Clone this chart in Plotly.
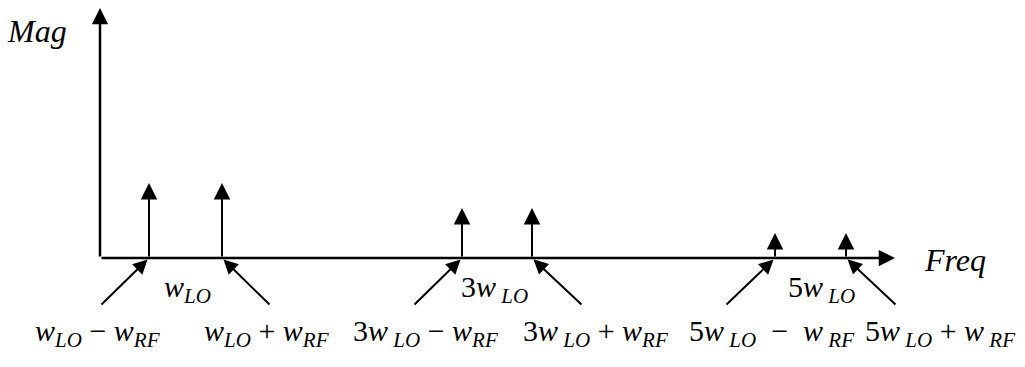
import plotly.graph_objects as go

# Mixer output spectrum: spur frequencies (schematic units) and relative magnitudes
freq = [4.9, 12.2, 36.2, 43.2, 67.5, 74.6]
mag = [3, 3, 2, 2, 1, 1]

# Labels for each spur (difference / sum products)
spur_labels = [
    "<i>w</i><sub><i>LO</i></sub> − <i>w</i><sub><i>RF</i></sub>",
    "<i>w</i><sub><i>LO</i></sub> + <i>w</i><sub><i>RF</i></sub>",
    "3<i>w</i><sub> <i>LO</i></sub> − <i>w</i><sub><i>RF</i></sub>",
    "3<i>w</i><sub> <i>LO</i></sub> + <i>w</i><sub><i>RF</i></sub>",
    "5<i>w</i><sub> <i>LO</i></sub>  −  <i>w</i><sub> <i>RF</i></sub>",
    "5<i>w</i><sub> <i>LO</i></sub> + <i>w</i><sub> <i>RF</i></sub>",
]
# Harmonic labels of the local oscillator
harmonic_labels = [
    "<i>w</i><sub><i>LO</i></sub>",
    "3<i>w</i><sub> <i>LO</i></sub>",
    "5<i>w</i><sub> <i>LO</i></sub>",
]

# Axis extents
freq_axis_end = 79.5
mag_axis_end = 10.0

# Label placement (data units)
spur_label_x = [-0.3, 16.6, 32.5, 49.5, 67.1, 84.0]
spur_label_y = -3.0
harmonic_label_x = [8.7, 39.4, 72.1]
harmonic_label_y = -1.25
pointer_dx = [49, -49, 49, -51, 50, -51]   # pointer tail offset in px (sign = side)
pointer_dy = 48

FONT = "Times New Roman, Liberation Serif, serif"
INK = "black"
TXT = dict(family=FONT, size=30, color=INK)
TITLE = dict(family=FONT, size=32, color=INK)

fig = go.Figure()
# invisible trace to establish the axes
fig.add_trace(go.Scatter(x=freq, y=[0] * len(freq), mode="markers",
                         marker=dict(size=1, color="rgba(0,0,0,0)"),
                         hoverinfo="skip", showlegend=False))

ann = []
# Frequency and magnitude axes with arrowheads
ann.append(dict(x=freq_axis_end, y=0, ax=0, ay=0, xref="x", yref="y",
                axref="x", ayref="y", text="", showarrow=True,
                arrowhead=2, arrowsize=1.3, arrowwidth=2.5, arrowcolor=INK))
ann.append(dict(x=0, y=mag_axis_end, ax=0, ay=0, xref="x", yref="y",
                axref="x", ayref="y", text="", showarrow=True,
                arrowhead=2, arrowsize=1.3, arrowwidth=2.5, arrowcolor=INK))

# Spectral lines
for f, m in zip(freq, mag):
    ann.append(dict(x=f, y=m, ax=f, ay=0, xref="x", yref="y",
                    axref="x", ayref="y", text="", showarrow=True,
                    arrowhead=2, arrowsize=1.65, arrowwidth=2, arrowcolor=INK))

# Pointers from labels to each spur
for f, dx in zip(freq, pointer_dx):
    ann.append(dict(x=f, y=0, ax=-dx, ay=pointer_dy, xref="x", yref="y",
                    text="", showarrow=True, standoff=2,
                    arrowhead=2, arrowsize=1.45, arrowwidth=2, arrowcolor=INK))

# Spur labels
for lx, t in zip(spur_label_x, spur_labels):
    ann.append(dict(x=lx, y=spur_label_y, xref="x", yref="y", text=t,
                    showarrow=False, xanchor="center", yanchor="middle",
                    font=TXT))

# Harmonic labels
for lx, t in zip(harmonic_label_x, harmonic_labels):
    ann.append(dict(x=lx, y=harmonic_label_y, xref="x", yref="y", text=t,
                    showarrow=False, xanchor="center", yanchor="middle",
                    font=TXT))

# Axis titles
ann.append(dict(x=-6.3, y=9.1, xref="x", yref="y", text="<i>Mag</i>",
                showarrow=False, xanchor="center", yanchor="middle", font=TITLE))
ann.append(dict(x=85.5, y=-0.08, xref="x", yref="y", text="<i>Freq</i>",
                showarrow=False, xanchor="center", yanchor="middle", font=TITLE))

fig.update_layout(
    width=1025, height=367,
    margin=dict(l=0, r=0, t=0, b=0),
    paper_bgcolor="white", plot_bgcolor="white",
    font=TXT,
    xaxis=dict(range=[-10, 92.5], visible=False, fixedrange=True),
    yaxis=dict(range=[-4.36, 10.32], visible=False, fixedrange=True),
    annotations=ann,
    showlegend=False,
)

fig.write_html("out.html")
